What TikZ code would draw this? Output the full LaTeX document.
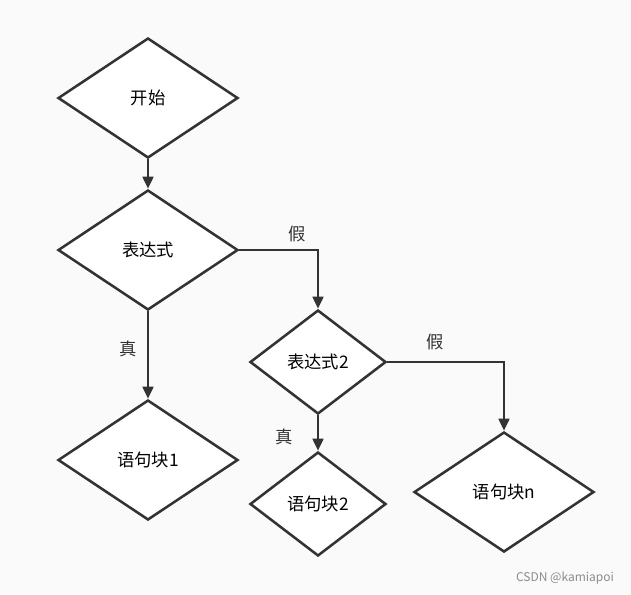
\documentclass[tikz,border=0pt]{standalone}
\usepackage{fontspec}
\setmainfont{Noto Sans CJK SC}
\usetikzlibrary{shapes.geometric,arrows.meta}
\begin{document}
\begin{tikzpicture}[x=0.75pt,y=-0.75pt,
  dia/.style={diamond,draw=black!80,line width=1.9pt,fill=white,inner sep=0pt,font=\fontsize{13pt}{15pt}\selectfont},
  big/.style={dia,minimum width=135pt,minimum height=90pt},
  small/.style={dia,minimum width=102pt,minimum height=78pt},
  conn/.style={draw=black!80,line width=1.9pt,-{Triangle[length=9pt,width=8pt]}},
  lbl/.style={font=\fontsize{13pt}{15pt}\selectfont,text=black!80}]
\fill[black!2] (0,0) rectangle (631,594);
\useasboundingbox (0,0) rectangle (631,594);
\node[big] (start) at (148,98) {开始};
\node[big] (e1) at (148,250) {表达式};
\node[big] (b1) at (148,460) {语句块1};
\node[small] (e2) at (318,362) {表达式2};
\node[small] (b2) at (318,504) {语句块2};
\node[big] (bn) at (504,492) {语句块n};
\coordinate (c1) at (318,250);
\coordinate (c2) at (504,362);
\draw[conn] (start.south) -- (e1.north);
\draw[conn] (e1.south) -- (b1.north);
\draw[conn] (e1.east) -- (c1) -- (e2.north);
\draw[conn] (e2.south) -- (b2.north);
\draw[conn] (e2.east) -- (c2) -- (bn.north);
\node[lbl] (l1) at (297,234) {假};
\node[lbl] (l2) at (128,349) {真};
\node[lbl] (l3) at (435,342) {假};
\node[lbl] (l4) at (284,437) {真};
\node[text=black!45,font=\fontsize{9pt}{10pt}\selectfont] (wm) at (565,578) {CSDN @kamiapoi};
\end{tikzpicture}
\end{document}
